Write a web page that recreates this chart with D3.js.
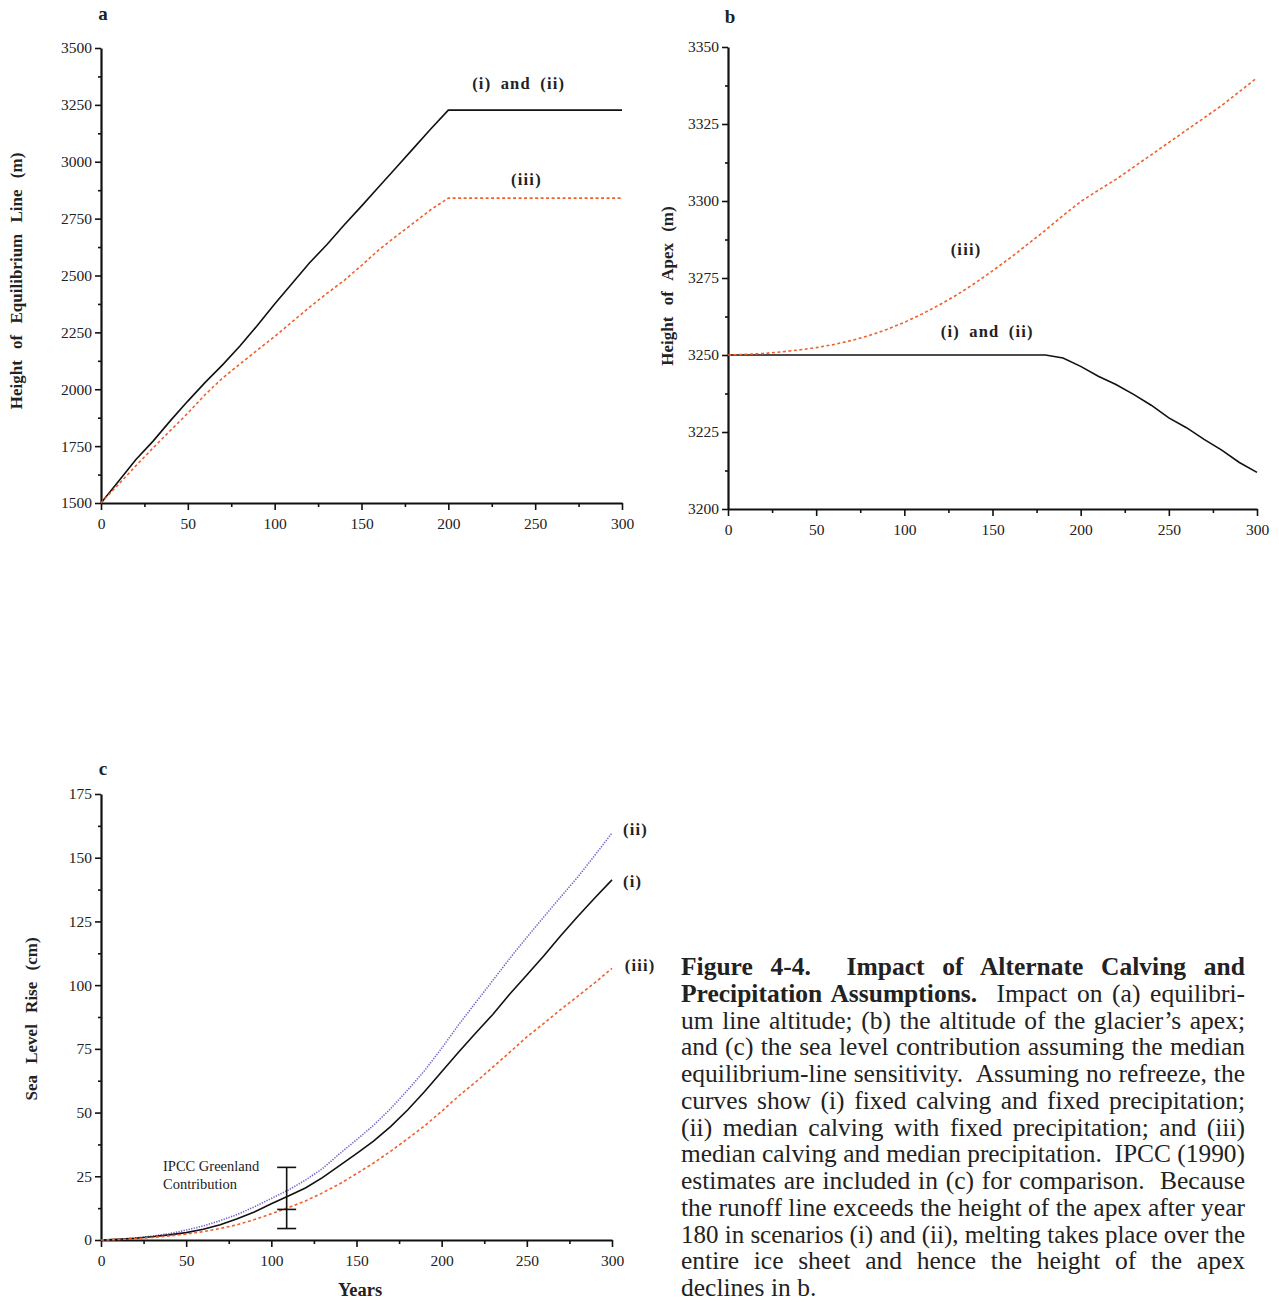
<!DOCTYPE html>
<html>
<head>
<meta charset="utf-8">
<script src="https://cdn.jsdelivr.net/npm/d3@7"></script>
<style>
  body { margin: 0; background: #fff; }
  svg text { font-family: "Liberation Serif", "Times New Roman", serif; fill: #222; }
</style>
</head>
<body>
<svg id="fig" width="1279" height="1303"></svg>
<script>
// years along the x axis of every panel
const years = [0, 10, 20, 30, 40, 50, 60, 70, 80, 90, 100, 110, 120, 130, 140, 150,
  160, 170, 180, 190, 200, 210, 220, 230, 240, 250, 260, 270, 280, 290, 300];

// panel a: height of equilibrium line (m)
const aSeriesI = [1500, 1595, 1690, 1772, 1862, 1948, 2030, 2107, 2190, 2280, 2375,
  2465, 2555, 2635, 2722, 2805, 2890, 2975, 3060, 3145, 3227,
  3227, 3227, 3227, 3227, 3227, 3227, 3227, 3227, 3227, 3227];
const aSeriesIII = [1500, 1581, 1663, 1742, 1819, 1895, 1977, 2049, 2111, 2172, 2232,
  2296, 2360, 2421, 2478, 2544, 2613, 2673, 2731, 2790, 2840,
  2840, 2840, 2840, 2840, 2840, 2840, 2840, 2840, 2840, 2840];

// panel b: height of apex (m)
const bSeriesI = [3250, 3250, 3250, 3250, 3250, 3250, 3250, 3250, 3250, 3250, 3250,
  3250, 3250, 3250, 3250, 3250, 3250, 3250, 3250, 3249, 3246.3,
  3243.1, 3240.4, 3237.2, 3233.7, 3229.6, 3226.4, 3222.6, 3219.1, 3215.1, 3211.9];
const bSeriesIII = [3250, 3250.2, 3250.5, 3251, 3251.6, 3252.4, 3253.4, 3254.7, 3256.3, 3258.3, 3260.6,
  3263.3, 3266.3, 3269.6, 3273.3, 3277.3, 3281.5, 3286, 3290.5, 3295.3, 3299.8,
  3303.5, 3307, 3311, 3315, 3319, 3323, 3327, 3331, 3335.5, 3340];

// panel c: sea level rise (cm)
const cSeriesI = [0, 0.3, 0.7, 1.3, 2.0, 2.9, 4.2, 6.0, 8.3, 11.0, 14.2,
  17.3, 20.4, 24.5, 29.2, 33.9, 38.8, 44.5, 51, 58.3, 66,
  73.8, 81.2, 88.5, 96.5, 104, 111.5, 119.5, 127, 134.3, 141.3];
const cSeriesII = [0, 0.3, 0.8, 1.5, 2.5, 3.9, 5.5, 7.6, 10, 13, 16.3,
  19.6, 23.5, 28, 33.8, 39.3, 45, 51.5, 58.8, 66.5, 75.2,
  84.5, 93.2, 101.8, 110.5, 118.8, 126.8, 134.7, 142.5, 151, 159.7];
const cSeriesIII = [0, 0.2, 0.5, 1.0, 1.6, 2.3, 3.3, 4.5, 6.0, 8.0, 10.3,
  12.7, 15.3, 18.5, 22, 26, 30.2, 34.8, 39.7, 44.8, 50.5,
  56.5, 62, 67.8, 73.7, 79.7, 85, 90.5, 95.7, 101, 106.6];

// IPCC Greenland contribution: year, then low / mid / high (cm)
const ipccYear = 109;
const ipccRange = [4.5, 12, 28.5];

// tick values (labelled every other one)
const xTicks = [0, 25, 50, 75, 100, 125, 150, 175, 200, 225, 250, 275, 300];
const aYTicks = [1500, 1625, 1750, 1875, 2000, 2125, 2250, 2375, 2500, 2625, 2750, 2875, 3000, 3125, 3250, 3375, 3500];
const bYTicks = [3200, 3212.5, 3225, 3237.5, 3250, 3262.5, 3275, 3287.5, 3300, 3312.5, 3325, 3337.5, 3350];
const cYTicks = [0, 12.5, 25, 37.5, 50, 62.5, 75, 87.5, 100, 112.5, 125, 137.5, 150, 162.5, 175];

const caption = [
  [["Figure 4-4.  Impact of Alternate Calving and", true]],
  [["Precipitation Assumptions.", true], ["  Impact on (a) equilibri-", false]],
  [["um line altitude; (b) the altitude of the glacier\u2019s apex;", false]],
  [["and (c) the sea level contribution assuming the median", false]],
  [["equilibrium-line sensitivity.  Assuming no refreeze, the", false]],
  [["curves show (i) fixed calving and fixed precipitation;", false]],
  [["(ii) median calving with fixed precipitation; and (iii)", false]],
  [["median calving and median precipitation.  IPCC (1990)", false]],
  [["estimates are included in (c) for comparison.  Because", false]],
  [["the runoff line exceeds the height of the apex after year", false]],
  [["180 in scenarios (i) and (ii), melting takes place over the", false]],
  [["entire ice sheet and hence the height of the apex", false]],
  [["declines in b.", false]],
];

const orange = "#f0602c";
const purple = "#7560c8";

const svg = d3.select("#fig");

function drawPanel(p) {
  const g = svg.append("g");
  const x = d3.scaleLinear().domain([0, 300]).range(p.xRange);
  const y = d3.scaleLinear().domain(p.yDomain).range(p.yRange);

  const xAxis = g
    .append("g")
    .attr("transform", `translate(0,${p.yRange[0]})`)
    .call(
      d3.axisBottom(x)
        .tickValues(xTicks)
        .tickSize(7)
        .tickSizeOuter(0)
        .tickPadding(8)
        .tickFormat((d) => (d % 50 === 0 ? d : ""))
    );

  const yAxis = g
    .append("g")
    .attr("transform", `translate(${p.xRange[0]},0)`)
    .call(
      d3.axisLeft(y)
        .tickValues(p.yTicks)
        .tickSize(6)
        .tickSizeOuter(0)
        .tickPadding(3)
        .tickFormat((d) => ((d - p.yDomain[0]) % p.yMajor === 0 ? d : ""))
    );

  xAxis.selectAll(".tick line")
    .filter((d) => d % 50 !== 0)
    .attr("y2", 4);
  yAxis.selectAll(".tick line")
    .filter((d) => (d - p.yDomain[0]) % p.yMajor !== 0)
    .attr("x2", -3);

  [xAxis, yAxis].forEach((ax) => {
    ax.select(".domain").attr("stroke", "#111").attr("stroke-width", 2.2);
    ax.selectAll(".tick line").attr("stroke", "#111").attr("stroke-width", 1.6);
    ax.selectAll(".tick text")
      .attr("font-size", 15.5)
      .attr("fill", "#333");
  });

  const line = d3.line()
    .x((d, i) => x(years[i]))
    .y((d) => y(d));

  p.series.forEach((s) => {
    g.append("path")
      .datum(s.values)
      .attr("fill", "none")
      .attr("stroke", s.color)
      .attr("stroke-width", s.width)
      .attr("stroke-dasharray", s.dash)
      .attr("d", line);
  });

  p.notes.forEach((n) => {
    g.append("text")
      .attr("x", x(n.year))
      .attr("y", y(n.value))
      .attr("text-anchor", n.anchor)
      .attr("font-size", 16.5)
      .attr("font-weight", "bold")
      .style("letter-spacing", "1.2px")
      .style("word-spacing", "4px")
      .text(n.text);
  });

  g.append("text")
    .attr("x", p.xRange[0] + 2)
    .attr("y", p.letterY)
    .attr("text-anchor", "middle")
    .attr("font-size", 19)
    .attr("font-weight", "bold")
    .text(p.letter);

  g.append("text")
    .attr("transform", `translate(${p.titleX},${p.titleY}) rotate(-90)`)
    .attr("text-anchor", "middle")
    .attr("font-size", 17)
    .attr("font-weight", "bold")
    .style("word-spacing", "7px")
    .text(p.title);

  return { g, x, y };
}

drawPanel({
  xRange: [101, 622],
  yRange: [503, 48],
  yDomain: [1500, 3500],
  yTicks: aYTicks,
  yMajor: 250,
  letter: "a",
  letterY: 20,
  title: "Height of Equilibrium Line (m)",
  titleX: 22,
  titleY: 281,
  series: [
    { values: aSeriesI, color: "#111", width: 1.6, dash: null },
    { values: aSeriesIII, color: orange, width: 1.6, dash: "3,2.5" },
  ],
  notes: [
    { text: "(i) and (ii)", year: 240.5, value: 3318, anchor: "middle" },
    { text: "(iii)", year: 245, value: 2900, anchor: "middle" },
  ],
});

drawPanel({
  xRange: [728, 1257],
  yRange: [509, 47],
  yDomain: [3200, 3350],
  yTicks: bYTicks,
  yMajor: 25,
  letter: "b",
  letterY: 23,
  title: "Height of Apex (m)",
  titleX: 673,
  titleY: 286,
  series: [
    { values: bSeriesI, color: "#111", width: 1.6, dash: null },
    { values: bSeriesIII, color: orange, width: 1.6, dash: "3,2.5" },
  ],
  notes: [
    { text: "(iii)", year: 135, value: 3282.5, anchor: "middle" },
    { text: "(i) and (ii)", year: 147, value: 3256, anchor: "middle" },
  ],
});

const c = drawPanel({
  xRange: [101, 612],
  yRange: [1240, 794],
  yDomain: [0, 175],
  yTicks: cYTicks,
  yMajor: 25,
  letter: "c",
  letterY: 775,
  title: "Sea Level Rise (cm)",
  titleX: 37,
  titleY: 1019,
  series: [
    { values: cSeriesII, color: purple, width: 1.6, dash: "1.3,1.3" },
    { values: cSeriesI, color: "#111", width: 1.6, dash: null },
    { values: cSeriesIII, color: orange, width: 1.6, dash: "3,2.5" },
  ],
  notes: [
    { text: "(ii)", year: 306.5, value: 158.8, anchor: "start" },
    { text: "(i)", year: 306.5, value: 138.4, anchor: "start" },
    { text: "(iii)", year: 307.5, value: 105.4, anchor: "start" },
  ],
});

// x axis title for panel c
c.g.append("text")
  .attr("x", 360)
  .attr("y", 1296)
  .attr("text-anchor", "middle")
  .attr("font-size", 18.5)
  .attr("font-weight", "bold")
  .text("Years");

// IPCC error bar
const ex = c.x(ipccYear);
c.g.append("line")
  .attr("x1", ex).attr("x2", ex)
  .attr("y1", c.y(ipccRange[0])).attr("y2", c.y(ipccRange[2]))
  .attr("stroke", "#111").attr("stroke-width", 1.6);
c.g.selectAll(".cap")
  .data(ipccRange)
  .enter()
  .append("line")
  .attr("class", "cap")
  .attr("x1", ex - 9.5).attr("x2", ex + 9.5)
  .attr("y1", (d) => c.y(d)).attr("y2", (d) => c.y(d))
  .attr("stroke", "#111").attr("stroke-width", 1.6);

c.g.append("text")
  .attr("x", c.x(36.4))
  .attr("y", c.y(27.1))
  .attr("font-size", 14.5)
  .text("IPCC Greenland");
c.g.append("text")
  .attr("x", c.x(36.4))
  .attr("y", c.y(20.1))
  .attr("font-size", 14.5)
  .text("Contribution");

// caption, justified line by line
const capX = 681;
const capW = 564;
const capTop = 975;
const capLead = 26.75;

caption.forEach((parts, i) => {
  const t = svg.append("text")
    .attr("x", capX)
    .attr("y", capTop + i * capLead)
    .attr("font-size", 25.5)
    .attr("fill", "#1a1a1a")
    .style("white-space", "pre");
  parts.forEach(([str, bold]) => {
    t.append("tspan")
      .attr("font-weight", bold ? "bold" : "normal")
      .text(str);
  });
  if (i === caption.length - 1) return;
  const w = t.node().getComputedTextLength();
  const spaces = parts.map((p) => p[0]).join("").split(" ").length - 1;
  if (w <= capW) {
    t.style("word-spacing", `${(capW - w) / spaces}px`);
  } else {
    t.attr("textLength", capW).attr("lengthAdjust", "spacingAndGlyphs");
  }
});
</script>
</body>
</html>
